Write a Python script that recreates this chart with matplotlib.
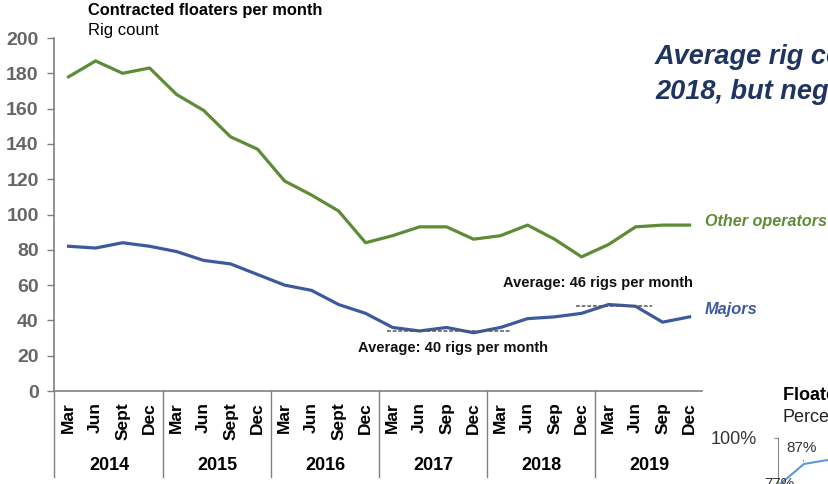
import matplotlib
matplotlib.use('Agg')
import matplotlib.pyplot as plt
import matplotlib.transforms as mtransforms

# Data
years = ['2014', '2015', '2016', '2017', '2018', '2019']
months = ['Mar', 'Jun', 'Sept', 'Dec',
          'Mar', 'Jun', 'Sept', 'Dec',
          'Mar', 'Jun', 'Sept', 'Dec',
          'Mar', 'Jun', 'Sep', 'Dec',
          'Mar', 'Jun', 'Sep', 'Dec',
          'Mar', 'Jun', 'Sep', 'Dec']
other_operators = [178, 187, 180, 183, 168, 159, 144, 137, 119, 111, 102, 84,
                   88, 93, 93, 86, 88, 94, 86, 76, 83, 93, 94, 94]
majors = [82, 81, 84, 82, 79, 74, 72, 66, 60, 57, 49, 44,
          36, 34, 36, 33, 36, 41, 42, 44, 49, 48, 39, 42]
avg_labels = ['Average: 40 rigs per month', 'Average: 46 rigs per month']
avg_levels = [34, 48]
avg_spans = [(11.8, 16.4), (18.8, 21.6)]

# fragment of the neighbouring chart (cut off at the right edge)
util_x = [0, 1, 2, 3]
util_pct = [77, 87, 89, 90]

plt.rcParams['font.family'] = ['Liberation Sans', 'DejaVu Sans']

green = '#5e8b36'
blue = '#3d5a9c'
grey = '#808080'

fig = plt.figure(figsize=(8.29, 4.84), dpi=100)
ax = fig.add_axes([54 / 829, 93 / 484, 648 / 829, 353 / 484])

x = list(range(len(months)))
ax.plot(x, other_operators, color=green, lw=2.3, solid_joinstyle='round')
ax.plot(x, majors, color=blue, lw=2.3, solid_joinstyle='round')

# average lines
for lvl, (x0, x1) in zip(avg_levels, avg_spans):
    ax.plot([x0, x1], [lvl, lvl], color='#555555', lw=1.1, ls=(0, (2.5, 1.2)))

ax.text(10.72, 24.4, avg_labels[0], fontsize=10.5, fontweight='bold',
        ha='left', va='center', color='#111111')
ax.text(23.13, 61.2, avg_labels[1], fontsize=10.5, fontweight='bold',
        ha='right', va='center', color='#111111')

# series labels
ax.text(23.57, 96.3, 'Other operators', color=green, fontsize=11.6,
        fontweight='bold', style='italic', ha='left', va='center', clip_on=False)
ax.text(23.57, 45.9, 'Majors', color=blue, fontsize=11.8,
        fontweight='bold', style='italic', ha='left', va='center', clip_on=False)

ax.set_xlim(-0.54, 23.46)
ax.set_ylim(0, 200)
ax.set_yticks(range(0, 201, 20))
ax.set_xticks(x)
ax.set_xticklabels(months, rotation=90, fontsize=12.5, fontweight='bold')
ax.tick_params(axis='x', length=0, pad=8)
ax.tick_params(axis='y', length=5, width=1, color=grey, labelsize=14,
               labelcolor='#666666', pad=6)
for lab in ax.get_yticklabels():
    lab.set_fontweight('bold')

for side in ['top', 'right']:
    ax.spines[side].set_visible(False)
for side in ['left', 'bottom']:
    ax.spines[side].set_color(grey)
    ax.spines[side].set_linewidth(1.2)

# year group separators and labels below the axis
trans = mtransforms.blended_transform_factory(ax.transData, ax.transAxes)
for b in [-0.54, 3.5, 7.5, 11.5, 15.5, 19.5]:
    ax.plot([b, b], [0, -0.244], color=grey, lw=1, transform=trans, clip_on=False)
for i, yr in enumerate(years):
    ax.text(i * 4 + 1.5, -0.21, yr, transform=trans, ha='center', va='center',
            fontsize=13, fontweight='bold')

# titles
fig.text(88 / 829, 1 - 11 / 484, 'Contracted floaters per month', fontsize=11.8,
         fontweight='bold', ha='left', va='center')
fig.text(88 / 829, 1 - 31 / 484, 'Rig count', fontsize=12, ha='left', va='center')

# headline (cut off at the right edge, as in the original slide)
fig.text(655 / 829, 1 - 57 / 484, 'Average rig count for majors rose in',
         fontsize=19.5, fontweight='bold', style='italic', color='#1f3461',
         ha='left', va='center')
fig.text(655 / 829, 1 - 92 / 484, '2018, but negative outlook remains',
         fontsize=19.5, fontweight='bold', style='italic', color='#1f3461',
         ha='left', va='center')

# neighbouring chart fragment
fig.text(783 / 829, 1 - 396 / 484, 'Floater utilization', fontsize=13,
         fontweight='bold', ha='left', va='center')
fig.text(783 / 829, 1 - 418 / 484, 'Percent', fontsize=13, ha='left', va='center',
         color='#222222')
ax2 = fig.add_axes([778 / 829, -34 / 484, 120 / 829, 80 / 484])
ax2.plot(util_x, util_pct, color='#5b9bd5', lw=1.5)
ax2.set_xlim(-0.1, 5)
ax2.set_ylim(60, 100)
ax2.set_yticks([100])
ax2.set_yticklabels(['100%'])
ax2.set_xticks([])
ax2.tick_params(axis='y', length=3, color='#888888', labelsize=13,
                labelcolor='#333333', pad=12)
for side in ['top', 'right', 'bottom']:
    ax2.spines[side].set_visible(False)
ax2.spines['left'].set_color('#888888')
ax2.spines['left'].set_linewidth(0.8)
ax2.annotate('87%', xy=(util_x[1], util_pct[1]), xytext=(util_x[1] - 0.1, 95),
             fontsize=11, ha='center', va='center', color='#333333',
             arrowprops=dict(arrowstyle='-', color='#333333', lw=0.6))
ax2.text(util_x[0] - 0.05, util_pct[0], '77%', fontsize=11, ha='center',
         va='center', color='#333333')

fig.savefig('out.png', dpi=100)
